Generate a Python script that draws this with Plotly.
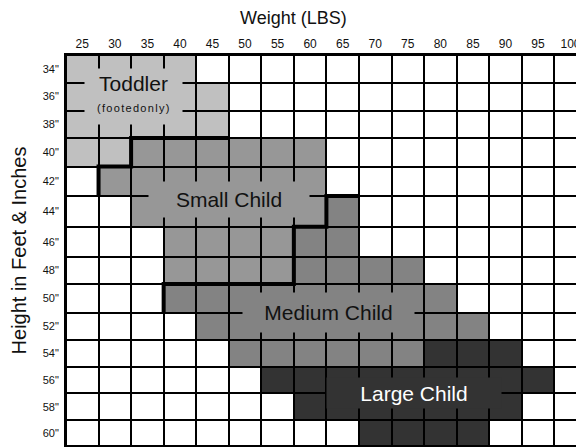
import numpy as np
import plotly.graph_objects as go

# ---------------- data ----------------
weights = [25, 30, 35, 40, 45, 50, 55, 60, 65, 70, 75, 80, 85, 90, 95, 100]
weight_labels = [str(w) for w in weights]
heights = [34, 36, 38, 40, 42, 44, 46, 48, 50, 52, 54, 56, 58, 60]
height_labels = [f'{h}"' for h in heights]

# each size: the height rows it covers and the weight span in each row
toddler_height = [34, 36, 38, 40]
toddler_wt_min = [25, 25, 25, 25]
toddler_wt_max = [40, 45, 45, 30]

small_height = [40, 42, 44, 46, 48]
small_wt_min = [35, 30, 35, 40, 40]
small_wt_max = [60, 60, 60, 55, 55]

medium_height = [44, 46, 48, 50, 52, 54]
medium_wt_min = [65, 60, 60, 40, 45, 50]
medium_wt_max = [65, 65, 75, 80, 85, 75]

large_height = [54, 56, 58, 60]
large_wt_min = [80, 55, 60, 70]
large_wt_max = [90, 95, 90, 85]

size_names = ["Toddler", "Small Child", "Medium Child", "Large Child"]
size_note = "(footedonly)"
x_title = "Weight (LBS)"
y_title = "Height in Feet & Inches"

# size limits (weight, height) drawn as heavy lines
toddler_small_limit_wt = [27.5, 27.5, 32.5, 32.5, 47.5]
toddler_small_limit_ht = [43, 41, 41, 39, 39]
small_medium_limit_wt = [67.5, 62.5, 62.5, 57.5, 57.5, 37.5, 37.5]
small_medium_limit_ht = [43, 43, 45, 45, 49, 49, 51]

# ---------------- layout helpers ----------------
# row boundaries of the table (pixel-like units, rows are not all equal)
row_edges = [0, 27.5, 55.5, 83, 111.5, 141, 171.7, 201.7, 229, 257.7, 285, 311.7, 338.3, 365, 391]


def ypos(h):
    idx = (np.asarray(h, dtype=float) - (heights[0] - 1)) / 2.0
    return np.interp(idx, np.arange(len(row_edges)), row_edges)


z = np.zeros((len(heights), len(weights)))
for code, (hs, lo, hi) in enumerate([
        (toddler_height, toddler_wt_min, toddler_wt_max),
        (small_height, small_wt_min, small_wt_max),
        (medium_height, medium_wt_min, medium_wt_max),
        (large_height, large_wt_min, large_wt_max)], start=1):
    for h, a, b in zip(hs, lo, hi):
        r = heights.index(h)
        for c, w in enumerate(weights):
            if a <= w <= b:
                z[r, c] = code

colors = ["#ffffff", "#c0c0c0", "#979797", "#838383", "#333333"]
colorscale = [[i / 4, col] for i, col in enumerate(colors)]

fig = go.Figure()
fig.add_trace(go.Heatmap(
    x=weights, y=row_edges, z=z, zmin=0, zmax=4,
    colorscale=colorscale, showscale=False, xgap=2, ygap=2,
    hoverinfo="skip", zsmooth=False))

for wx, hy in [(toddler_small_limit_wt, toddler_small_limit_ht),
               (small_medium_limit_wt, small_medium_limit_ht)]:
    fig.add_trace(go.Scatter(x=wx, y=ypos(hy), mode="lines",
                             line=dict(color="black", width=4),
                             hoverinfo="skip", showlegend=False))

FONT = "Liberation Sans, Arial, sans-serif"
anns = [
    # Toddler box + title
    dict(x=32.5, y=float(ypos(36)), text=size_names[0], width=91, height=49, borderpad=3,
         valign="top", bgcolor=colors[1], xshift=2, font=dict(size=21, color="#111")),
    dict(x=32.5, y=float(ypos(36)), text='<span style="letter-spacing:1.3px">' + size_note + '</span>',
         xshift=3, yshift=-11, font=dict(size=11, color="#111")),
    dict(x=47.5, y=float(ypos(43)), text=size_names[1], width=160, height=35, borderpad=0,
         bgcolor=colors[2], yshift=-3, font=dict(size=21, color="#111")),
    dict(x=62.5, y=float(ypos(51)), text=size_names[2], width=171, height=39, borderpad=0,
         bgcolor=colors[3], xshift=2, font=dict(size=21, color="#111")),
    dict(x=76, y=float(ypos(57)), text=size_names[3], width=174, height=30, borderpad=0,
         bgcolor=colors[4], font=dict(size=21, color="#ffffff")),
]
for a in anns:
    a.update(xref="x", yref="y", showarrow=False, font_family=FONT)
    fig.add_annotation(**a)

# axis title above the weight labels
fig.add_annotation(text=x_title, xref="paper", yref="paper", x=0.44, y=1.094,
                   xanchor="center", yanchor="middle", showarrow=False,
                   font=dict(family=FONT, size=18, color="#111"))

# the page body adds an 8px offset; the figure is sized to fill the rest of the window
PAGE_OFFSET = 8
plot_w = 584 - 66
col_px = 32.55
fig.update_layout(
    width=584 - PAGE_OFFSET, height=447 - PAGE_OFFSET,
    margin=dict(l=66 - PAGE_OFFSET, r=0, t=55 - PAGE_OFFSET, b=1, pad=0, autoexpand=False),
    plot_bgcolor="black", paper_bgcolor="white",
    font=dict(family=FONT, color="#111"),
    showlegend=False,
    xaxis=dict(side="top", range=[weights[0] - 2.5, weights[0] - 2.5 + plot_w / col_px * 5],
               tickmode="array", tickvals=weights, ticktext=weight_labels,
               showgrid=False, zeroline=False, ticks="", automargin=False,
               showline=True, linecolor="black", linewidth=2, mirror=True,
               tickfont=dict(size=12, color="#111"), ticklabelstandoff=0,
               fixedrange=True),
    yaxis=dict(range=[row_edges[-1], 0], tickmode="array",
               tickvals=list(ypos(heights)), ticktext=height_labels,
               showgrid=False, zeroline=False, ticks="", automargin=False,
               showline=True, linecolor="black", linewidth=2, mirror=False,
               tickfont=dict(size=11, color="#111"), ticklabelstandoff=3,
               title=dict(text=y_title, font=dict(size=20, color="#111"), standoff=15),
               fixedrange=True),
)

fig.write_html("out.html", config={"displayModeBar": False})
